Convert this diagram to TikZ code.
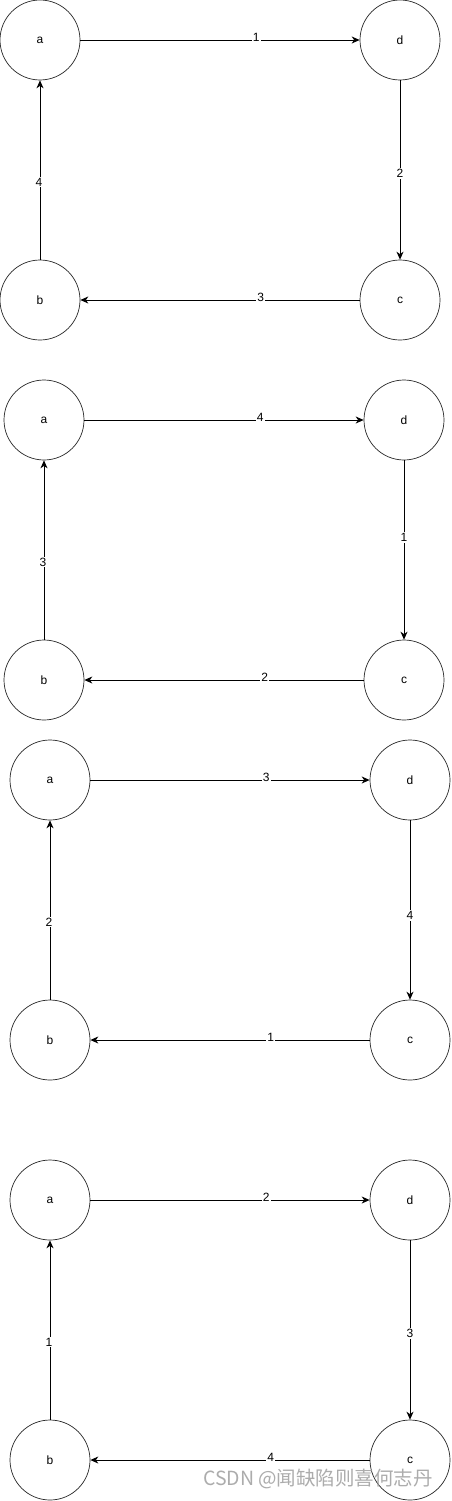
\documentclass[tikz,border=0pt]{standalone}
\usepackage{fontspec}
\setmainfont{Liberation Sans}
\newfontfamily\cjkfont{Noto Sans CJK SC}
\usetikzlibrary{arrows.meta}
\begin{document}
\begin{tikzpicture}[x=1pt,y=-1pt,
  vert/.style={circle,draw=black!85,line width=0.7pt,minimum size=80pt,inner sep=0pt,font=\fontsize{12}{13}\selectfont},
  edge/.style={line width=0.9pt,-{Stealth[length=8pt,width=7pt,inset=2.5pt]}},
  lbl/.style={fill=white,inner sep=1pt,font=\fontsize{12}{13}\selectfont},
  hlbl/.style={lbl,yshift=3pt}]
\useasboundingbox (0,0) rectangle (451,1501);
\fill[white] (0,0) rectangle (451,1501);
% block 1
\node[vert] (a1) at (40,40) {a};
\node[vert] (d1) at (400,40) {d};
\node[vert] (b1) at (40,300) {b};
\node[vert] (c1) at (400,300) {c};
\draw[edge] (a1) -- node[hlbl,pos=0.63] (l1t) {1} (d1);
\draw[edge] (d1) -- node[lbl,pos=0.52] (l1r) {2} (c1);
\draw[edge] (c1) -- node[hlbl,pos=0.354] (l1b) {3} (b1);
\draw[edge] (b1) -- node[lbl,pos=0.433,xshift=-1pt] (l1l) {4} (a1);
% block 2
\node[vert] (a2) at (44,420) {a};
\node[vert] (d2) at (404,420) {d};
\node[vert] (b2) at (44,680) {b};
\node[vert] (c2) at (404,680) {c};
\draw[edge] (a2) -- node[hlbl,pos=0.63] (l2t) {4} (d2);
\draw[edge] (d2) -- node[lbl,pos=0.43] (l2r) {1} (c2);
\draw[edge] (c2) -- node[hlbl,pos=0.354] (l2b) {2} (b2);
\draw[edge] (b2) -- node[lbl,pos=0.433,xshift=-1pt] (l2l) {3} (a2);
% block 3
\node[vert] (a3) at (50,780) {a};
\node[vert] (d3) at (410,780) {d};
\node[vert] (b3) at (50,1040) {b};
\node[vert] (c3) at (410,1040) {c};
\draw[edge] (a3) -- node[hlbl,pos=0.63] (l3t) {3} (d3);
\draw[edge] (d3) -- node[lbl,pos=0.53] (l3r) {4} (c3);
\draw[edge] (c3) -- node[hlbl,pos=0.354] (l3b) {1} (b3);
\draw[edge] (b3) -- node[lbl,pos=0.433,xshift=-1pt] (l3l) {2} (a3);
% block 4
\node[vert] (a4) at (50,1200) {a};
\node[vert] (d4) at (410,1200) {d};
\node[vert] (b4) at (50,1460) {b};
\node[vert] (c4) at (410,1460) {c};
\draw[edge] (a4) -- node[hlbl,pos=0.63] (l4t) {2} (d4);
\draw[edge] (d4) -- node[lbl,pos=0.52] (l4r) {3} (c4);
\draw[edge] (c4) -- node[hlbl,pos=0.354] (l4b) {4} (b4);
\draw[edge] (b4) -- node[lbl,pos=0.433,xshift=-1pt] (l4l) {1} (a4);
% watermark
\node[text=black!38,opacity=0.85,inner sep=0pt,font=\cjkfont\fontsize{19.5}{20}\selectfont] (wm) at (318,1479) {CSDN @闻缺陷则喜何志丹};
\end{tikzpicture}
\end{document}
